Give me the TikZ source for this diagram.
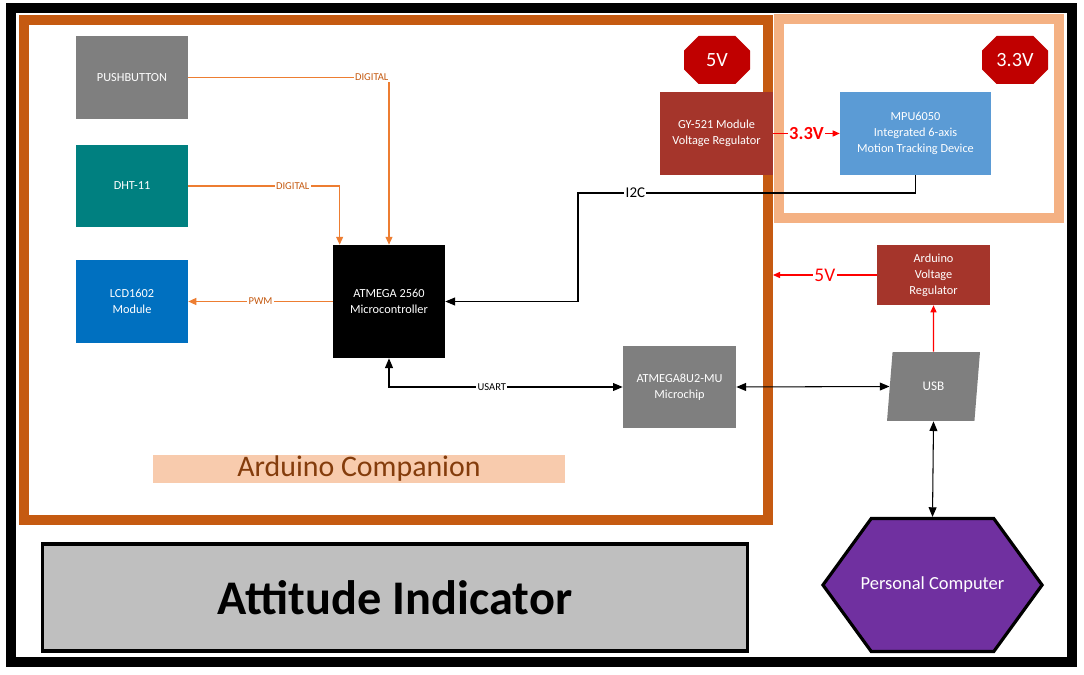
\documentclass[tikz,border=0pt]{standalone}
\usepackage{fontspec}
\setmainfont{Carlito}
\usepackage{xcolor}
\usepackage{tikz}
\usetikzlibrary{arrows.meta,positioning,shapes.geometric,shapes.misc,shapes.symbols}

\definecolor{framedark}{HTML}{C55A11}
\definecolor{framelight}{HTML}{F4B183}
\definecolor{boxgray}{HTML}{7F7F7F}
\definecolor{boxteal}{HTML}{008080}
\definecolor{boxblue}{HTML}{0070C0}
\definecolor{regred}{HTML}{A5352B}
\definecolor{badgered}{HTML}{C00000}
\definecolor{mpublue}{HTML}{5B9BD5}
\definecolor{pcpurple}{HTML}{7030A0}
\definecolor{titlegray}{HTML}{BFBFBF}
\definecolor{wireorange}{HTML}{ED7D31}
\definecolor{peach}{HTML}{F8CBAD}
\definecolor{brown}{HTML}{843C0C}

\begin{document}
\begin{tikzpicture}[
  x=0.02cm, y=-0.02cm,
  box/.style={align=center, inner sep=2pt, minimum width=2.24cm, minimum height=1.66cm, text=white, font=\fontsize{7}{9}\selectfont},
  badge/.style={chamfered rectangle, chamfered rectangle xsep=0.16cm, chamfered rectangle ysep=0.16cm, fill=badgered, text=white, minimum width=1.32cm, minimum height=0.96cm, inner sep=0pt, font=\fontsize{11.5}{12}\selectfont},
  oarrow/.style={-{Triangle[length=4.5pt,width=4pt]}, draw=wireorange, line width=0.6pt},
  barrow/.style={{Triangle[length=5.5pt,width=4.5pt]}-{Triangle[length=5.5pt,width=4.5pt]}, line width=0.6pt},
  rarrow/.style={-{Triangle[length=4pt,width=3.5pt]}, draw=red, line width=0.6pt},
  lbl/.style={fill=white, inner sep=0.8pt, font=\fontsize{6}{7}\selectfont}
]
\fill[white] (0,0) rectangle (1084,675);
\useasboundingbox (0,0) rectangle (1084,675);

% frames
\draw[line width=6.2pt] (11,8) rectangle (1072,662);
\draw[framedark, line width=5.7pt] (24,20) rectangle (768,520);
\draw[framelight, line width=6.2pt] (779,19) rectangle (1059,218);

% blocks
\node[box, fill=boxgray] (push) at (132,77.5) {PUSHBUTTON};
\node[box, fill=boxteal] (dht) at (132,186) {DHT-11};
\node[box, fill=boxblue] (lcd) at (132,301.5) {LCD1602\\Module};
\node[box, fill=black, minimum height=2.26cm] (mega) at (389,301.5) {ATMEGA 2560\\Microcontroller};
\node[box, fill=boxgray, minimum width=2.26cm] (chip) at (679.5,387) {ATMEGA8U2-MU\\Microchip};
\node[box, fill=regred, minimum width=2.26cm] (gyreg) at (716.5,133.5) {GY-521 Module\\Voltage Regulator};
\node[box, fill=mpublue, minimum width=3.02cm] (mpu) at (915.5,133.5) {MPU6050\\Integrated 6-axis\\Motion Tracking Device};
\node[box, fill=regred, minimum width=2.26cm, minimum height=1.2cm] (ardreg) at (933.5,275) {Arduino\\Voltage\\Regulator};
\node[trapezium, trapezium left angle=82, trapezium right angle=98, trapezium stretches=true, fill=boxgray, minimum width=1.86cm, minimum height=1.38cm, inner sep=1pt, text=white, font=\fontsize{7.5}{9}\selectfont] (usb) at (933.5,386.5) {USB};
\node[signal, signal to=west and east, signal pointer angle=108, fill=pcpurple, draw, line width=1.8pt, minimum height=2.66cm, inner ysep=1pt, inner xsep=-6pt, text=white, font=\fontsize{10.5}{12}\selectfont] (pc) at (932.5,585) {Personal Computer};
\node[badge] (volt5) at (717,60) {5V};
\node[badge] (volt33) at (1015,60) {3.3V};

\node[fill=peach, minimum width=8.24cm, minimum height=0.56cm, inner sep=0pt, text=brown, font=\fontsize{17}{18}\selectfont] (companion) at (359,469) {Arduino Companion};
\node[draw, line width=1.8pt, fill=titlegray, minimum width=14.1cm, minimum height=2.14cm, font=\fontsize{27.5}{30}\selectfont\bfseries] (title) at (395,597.5) {Attitude Indicator};

% connections
\coordinate (i2cbend) at (578,193);
\coordinate (compedge) at (773,275);
\draw[oarrow] (push.east) -| node[lbl, text=framedark, pos=0.457] {DIGITAL} (mega.north);
\draw[oarrow] (dht.east) -| node[lbl, text=framedark, pos=0.345] {DIGITAL} ([xshift=0.14cm]mega.north west);
\draw[oarrow] (mega.west) -- node[lbl, text=framedark] {PWM} (lcd.east);
\draw[-{Triangle[length=5.5pt,width=4.5pt]}, line width=0.6pt] (mpu.south) |- node[lbl, font=\fontsize{8.5}{9}\selectfont, pos=0.915] {I2C} (i2cbend) |- (mega.east);
\draw[barrow] (mega.south) |- node[lbl, pos=0.72] {USART} (chip.west);
\draw[barrow] (chip.east) -- (usb.west);
\draw[barrow] (usb.south) -- (pc.north);
\draw[rarrow] (usb.north) -- (ardreg.south);
\draw[rarrow] (ardreg.west) -- node[lbl, text=red, font=\fontsize{11}{12}\selectfont] {5V} (compedge);
\draw[rarrow] (gyreg.east) -- node[lbl, text=red, font=\fontsize{10.5}{12}\selectfont\bfseries] {3.3V} (mpu.west);
\end{tikzpicture}
\end{document}
